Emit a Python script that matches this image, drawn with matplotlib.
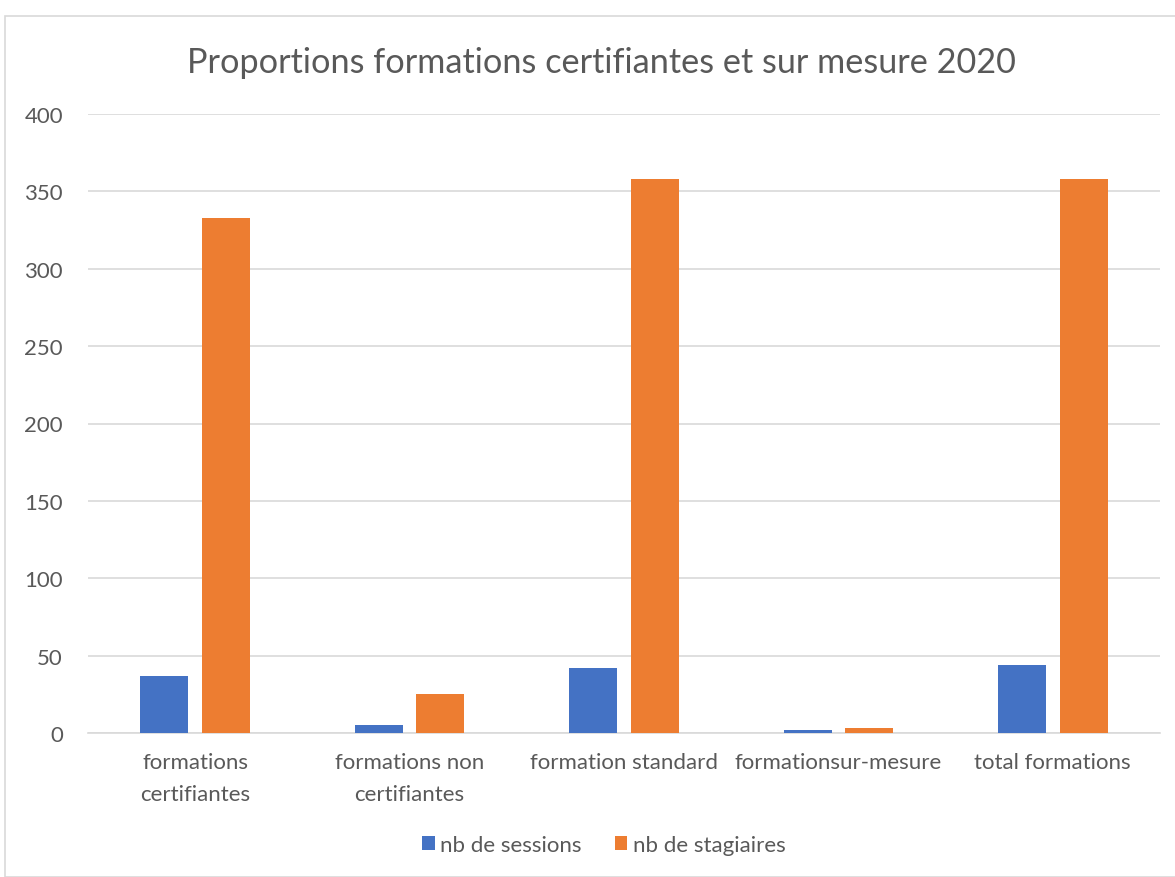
import matplotlib
matplotlib.use("Agg")
import matplotlib.pyplot as plt
from matplotlib.patches import Rectangle
import numpy as np

categories = ["formations\ncertifiantes", "formations non\ncertifiantes", "formation standard",
              "formationsur-mesure", "total formations"]
sessions = [37, 5, 42, 2, 44]
stagiaires = [333, 25, 358, 3, 358]

BLUE = "#4472C4"
ORANGE = "#ED7D31"
GREY = "#595959"
GRID = "#D9D9D9"

plt.rcParams["font.family"] = ["Lato", "DejaVu Sans"]

fig = plt.figure(figsize=(11.75, 8.78), dpi=100)
ax = fig.add_axes([88 / 1175, 1 - 734 / 878, (1160 - 88) / 1175, (734 - 115) / 878])

# cadre extérieur du graphique
fig.patches.append(Rectangle((5 / 1175, 0), 1.2, 1 - 17 / 878, transform=fig.transFigure,
                             fill=False, edgecolor=GRID, lw=1.2))

x = np.arange(len(categories))
w = 0.224
off = 0.1435
ax.bar(x - off, sessions, w, color=BLUE, label="nb de sessions", zorder=3)
ax.bar(x + off, stagiaires, w, color=ORANGE, label="nb de stagiaires", zorder=3)

ax.set_xlim(-0.5, len(categories) - 0.5)
ax.set_ylim(0, 400)
ax.set_yticks(range(0, 401, 50))
ax.yaxis.grid(True, color=GRID, lw=1.2, zorder=0)
ax.set_axisbelow(True)
for s in ["top", "right", "left"]:
    ax.spines[s].set_visible(False)
ax.spines["bottom"].set_color(GRID)
ax.spines["bottom"].set_linewidth(1.2)
ax.tick_params(axis="both", length=0, colors=GREY, labelsize=16)
ax.tick_params(axis="y", pad=18)
ax.tick_params(axis="x", pad=14)
ax.set_xticks(x)
ax.set_xticklabels(categories, linespacing=1.7)

fig.text(601 / 1175, 1 - 63 / 878, "Proportions formations certifiantes et sur mesure 2020",
         ha="center", va="center", fontsize=24.7, color=GREY)

fig.legend(loc="center", bbox_to_anchor=(604 / 1175, 1 - 846 / 878), ncol=2, frameon=False,
           fontsize=16, labelcolor=GREY, handlelength=0.55, handleheight=0.55,
           handletextpad=0.25, columnspacing=1.5)

fig.savefig("out.png", dpi=100)
